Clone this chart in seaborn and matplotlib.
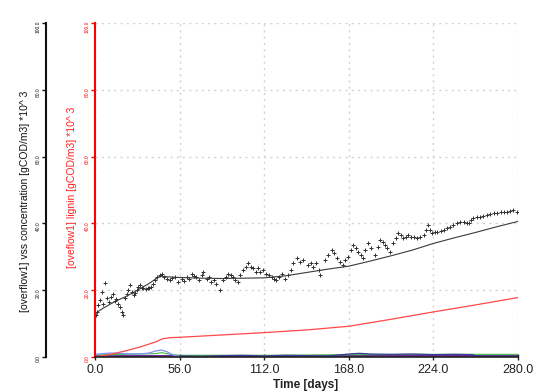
import matplotlib
matplotlib.use("Agg")
import matplotlib.pyplot as plt
import seaborn as sns
import pandas as pd

# simulated vss (black line)
sim_day = [0, 5, 10, 15, 20, 25, 30, 35, 40, 43, 48, 56, 70, 84, 98, 112, 126,
           140, 154, 168, 182, 196, 210, 224, 238, 252, 266, 280]
sim_vss = [13.0, 14.5, 15.8, 17.0, 18.0, 19.2, 20.5, 21.8, 23.3, 24.2, 24.0, 23.8,
           23.6, 23.5, 23.6, 23.7, 24.3, 25.3, 26.3, 27.2, 28.7, 30.3, 32.0, 34.0,
           35.7, 37.3, 39.0, 40.6]

# measured vss (black crosses)
obs_day = [0.5, 1.1, 2.2, 3.3, 4.4, 5.5, 6.6, 7.7, 9.0, 10.5,
           12.0, 13.0, 14.0, 15.3, 16.5, 17.6, 18.7, 20.0, 21.0, 22.0,
           23.0, 24.2, 25.5, 26.5, 27.6, 28.7, 29.8, 31.0, 32.0, 33.5,
           35.0, 36.0, 37.0, 38.3, 39.7, 41.3, 43.0, 44.5, 46.0, 47.8,
           49.5, 51.0, 53.0, 55.0, 57.5, 59.0, 61.0, 62.5, 64.0, 65.5,
           67.0, 68.7, 70.5, 71.7, 74.0, 75.5, 77.0, 78.5, 80.0, 82.7,
           85.0, 86.5, 88.0, 90.0, 91.5, 93.0, 94.5, 96.3, 98.0, 99.7,
           101.5, 103.0, 104.5, 106.3, 108.0, 109.5, 111.0, 113.5, 115.0, 117.0,
           118.5, 120.0, 121.8, 123.5, 125.5, 128.0, 129.5, 131.0, 133.5, 136.0,
           138.0, 141.0, 142.8, 144.5, 146.5, 148.0, 149.0, 152.0, 154.5, 156.7,
           158.0, 160.0, 162.0, 164.0, 165.7, 167.5, 169.5, 171.0, 172.5, 174.0,
           176.0, 177.5, 179.0, 181.0, 183.0, 185.5, 187.0, 188.7, 190.5, 192.0,
           193.5, 195.0, 197.5, 199.0, 200.8, 202.5, 204.0, 205.8, 207.5, 209.3,
           211.0, 213.0, 215.0, 217.5, 219.0, 220.6, 222.0, 223.0, 225.0, 226.5,
           229.0, 231.0, 233.0, 235.0, 237.0, 239.5, 241.7, 244.0, 246.0, 247.5,
           249.0, 250.5, 253.0, 255.0, 257.0, 259.5, 261.7, 264.0, 266.0, 268.5,
           270.7, 273.0, 275.0, 277.0, 279.5]
obs_vss = [12.5, 13.6, 15.5, 17.1, 19.6, 16.0, 22.1, 17.7, 16.5, 18.0,
           19.0, 16.8, 17.5, 16.0, 15.0, 13.6, 12.6, 17.7, 19.0, 20.0,
           21.6, 19.5, 18.5, 19.2, 20.0, 21.0, 21.6, 20.8, 20.6, 20.4,
           20.6, 20.8, 21.0, 22.0, 23.0, 24.0, 24.5, 24.8, 24.0, 23.5,
           23.0, 23.8, 24.0, 22.5, 23.5, 22.8, 24.0, 23.5, 25.0, 24.2,
           24.0, 23.2, 24.5, 25.5, 23.5, 24.0, 22.5, 23.0, 22.0, 20.0,
           23.0, 24.0, 25.0, 24.5, 24.0, 23.0, 22.5, 24.5, 26.0, 27.0,
           28.0, 27.0, 26.5, 25.5, 26.5, 25.5, 26.0, 25.0, 24.5, 24.0,
           23.5, 23.0, 24.0, 25.0, 23.5, 24.5, 26.0, 28.0, 29.5, 28.5,
           29.0, 27.5, 28.0, 27.0, 28.0, 26.0, 24.5, 29.0, 30.5, 32.0,
           31.0, 29.5, 28.5, 27.5, 29.0, 30.0, 32.0, 33.5, 32.5, 31.5,
           30.5, 29.5, 32.0, 34.0, 32.5, 30.5, 33.0, 35.0, 34.5, 33.5,
           32.5, 31.5, 34.0, 35.5, 37.0, 36.5, 35.5, 36.0, 36.5, 36.0,
           36.0, 35.5, 36.0, 36.5, 38.0, 39.5, 38.0, 37.0, 37.3, 37.5,
           37.8, 38.0, 38.5, 39.0, 39.5, 40.0, 40.3, 40.5, 40.2, 40.0,
           41.0, 41.5, 41.8, 42.0, 42.3, 42.5, 42.7, 43.0, 43.2, 43.5,
           43.3, 43.5, 43.8, 44.0, 43.5]

# lignin (red line)
lig_day = [0, 10, 20, 30, 40, 45, 50, 56, 84, 112, 140, 168, 196, 224, 252, 280]
lig_val = [0.0, 0.8, 1.8, 3.0, 4.5, 5.5, 5.8, 5.9, 6.6, 7.3, 8.1, 9.2, 11.3, 13.5, 15.6, 17.8]

# small components near zero
lblue_day = [0, 5, 10, 20, 30, 36, 40, 44, 48, 52, 56]
lblue_val = [0.8, 1.0, 1.2, 1.0, 0.9, 1.2, 1.8, 2.1, 1.5, 0.5, 0.2]
dblue_day = [56, 70, 84, 98, 112, 126, 140, 154, 168, 175, 182, 196, 210, 224, 238, 250, 252, 266, 280]
dblue_val = [0.3, 0.2, 0.4, 0.5, 0.3, 0.5, 0.4, 0.3, 0.9, 1.1, 0.9, 0.8, 0.9, 0.7, 0.8, 0.7, 0.3, 0.2, 0.2]
green_day = [0, 20, 40, 44, 50, 56, 112, 168, 224, 280]
green_val = [0.6, 0.8, 1.0, 1.3, 0.8, 0.5, 0.5, 0.7, 0.8, 0.8]
purple_day = [0, 56, 112, 168, 224, 280]
purple_val = [0.15, 0.2, 0.2, 0.2, 0.2, 0.2]

x_ticks = [0, 56, 112, 168, 224, 280]
y_ticks = [0, 20, 40, 60, 80, 100]

sns.set_style("white")
plt.rcParams['font.family'] = ['Liberation Sans', 'DejaVu Sans']

fig = plt.figure(figsize=(5.56, 3.92), dpi=100)
W, H = 556, 392
ax = fig.add_axes([95 / W, 1 - 357 / H, 423 / W, 334 / H])

sns.lineplot(x=purple_day, y=purple_val, ax=ax, color='#6a2c91', lw=2.0)
sns.lineplot(x=green_day, y=green_val, ax=ax, color='#44bb44', lw=0.8)
sns.lineplot(x=lblue_day, y=lblue_val, ax=ax, color='#7f8fff', lw=0.9)
sns.lineplot(x=dblue_day, y=dblue_val, ax=ax, color='#3a3a9a', lw=0.9)
sns.lineplot(x=lig_day, y=lig_val, ax=ax, color='#ff4848', lw=0.9)
sns.lineplot(x=sim_day, y=sim_vss, ax=ax, color='#3a3a3a', lw=0.8)
obs = pd.DataFrame({'day': obs_day, 'vss': obs_vss})
sns.scatterplot(data=obs, x='day', y='vss', ax=ax, marker='+', s=9,
                color='#303030', linewidth=0.7)

ax.set_xlim(0, 280)
ax.set_ylim(0, 100)
ax.set_xticks(x_ticks)
ax.set_xticklabels([f"{v:.1f}" for v in x_ticks])
ax.set_yticks(y_ticks)
ax.set_yticklabels([f"{v:.1f}" for v in y_ticks])
ax.grid(True, color='#d2d2d2', linestyle=(0, (1.5, 3)), linewidth=1.0)
ax.set_xlabel('')
ax.set_ylabel('')

for s in ['top', 'right']:
    ax.spines[s].set_visible(False)
ax.spines['left'].set_color('#ff0000')
ax.spines['left'].set_linewidth(1.5)
ax.spines['bottom'].set_color('#222222')
ax.spines['bottom'].set_linewidth(1.2)
ax.tick_params(axis='x', direction='inout', length=4, width=1, pad=3,
               labelsize=9, colors='#222222', bottom=True)
ax.tick_params(axis='y', direction='out', length=3, width=1, pad=1,
               labelsize=3.5, colors='#ff0000', labelrotation=90, left=True)

# black vss axis further left
axb = ax.twinx()
axb.set_ylim(0, 100)
axb.yaxis.set_ticks_position('left')
axb.spines['left'].set_position(('axes', -49 / 423))
for s in ['top', 'right', 'bottom']:
    axb.spines[s].set_visible(False)
axb.spines['left'].set_visible(True)
axb.spines['left'].set_color('#111111')
axb.spines['left'].set_linewidth(1.5)
axb.set_yticks(y_ticks)
axb.set_yticklabels([f"{v:.1f}" for v in y_ticks])
axb.tick_params(axis='y', direction='out', length=3, width=1, pad=1,
                labelsize=3.5, colors='#111111', labelrotation=90, left=True, right=False)

fig.text(25 / W, 1 - 201 / H, '[overflow1] vss concentration [gCOD/m3] *10^ 3',
         rotation=90, ha='center', va='center', fontsize=7.5, color='#111111')
fig.text(72 / W, 1 - 187 / H, '[oveflow1] lignin [gCOD/m3] *10^ 3',
         rotation=90, ha='center', va='center', fontsize=7.5, color='#ff2020')
fig.text(306 / W, 1 - 385 / H, 'Time [days]', ha='center', va='center',
         fontsize=8.5, fontweight='bold', color='#222222')

fig.savefig('out.png', dpi=100)
